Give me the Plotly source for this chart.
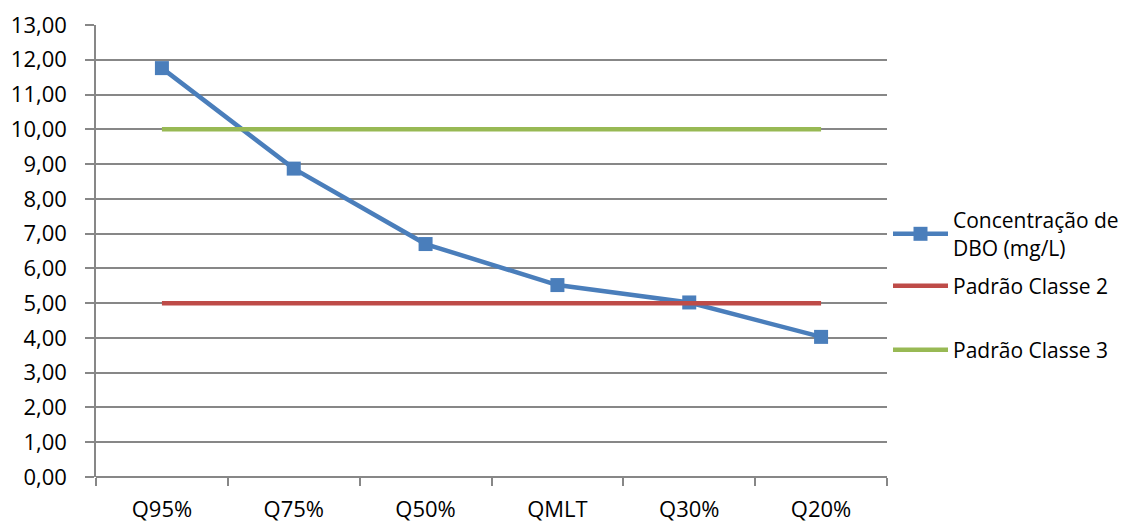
import plotly.graph_objects as go

# Flow scenarios and BOD concentration
categories = ["Q95%", "Q75%", "Q50%", "QMLT", "Q30%", "Q20%"]
dbo = [11.76, 8.87, 6.70, 5.52, 5.02, 4.03]
classe2 = [5.0, 5.0, 5.0, 5.0, 5.0, 5.0]
classe3 = [10.0, 10.0, 10.0, 10.0, 10.0, 10.0]
y_ticks = [float(v) for v in range(0, 14)]

FONT = "Open Sans"
GRID = "#878787"

fig = go.Figure()
fig.add_trace(go.Scatter(
    x=categories, y=dbo, mode="lines+markers",
    name="Concentração de<br>DBO (mg/L)",
    line=dict(color="#4A7EBB", width=4.5),
    marker=dict(symbol="square", size=14, color="#4A7EBB"),
    legend="legend",
))
fig.add_trace(go.Scatter(
    x=categories, y=classe2, mode="lines", name="Padrão Classe 2",
    line=dict(color="#BE4B48", width=4.5), legend="legend2",
))
fig.add_trace(go.Scatter(
    x=categories, y=classe3, mode="lines", name="Padrão Classe 3",
    line=dict(color="#98B954", width=4.5), legend="legend3",
))

legend_common = dict(
    xref="container", yref="container", xanchor="left", yanchor="middle",
    font=dict(family=FONT, size=21, color="#000000"),
    bgcolor="rgba(0,0,0,0)", itemwidth=55, tracegroupgap=0,
)

fig.update_layout(
    width=1121, height=523,
    margin=dict(l=96, r=234, t=25, b=46, autoexpand=False),
    paper_bgcolor="white", plot_bgcolor="white",
    font=dict(family=FONT, size=23, color="#000000"),
    showlegend=True,
    legend=dict(x=888 / 1121, y=1 - 234 / 523, **legend_common),
    legend2=dict(x=888 / 1121, y=1 - 286 / 523, **legend_common),
    legend3=dict(x=888 / 1121, y=1 - 350 / 523, **legend_common),
    xaxis=dict(
        type="category", range=[-0.5, 5.5], automargin=False,
        tickson="boundaries", ticks="outside", ticklen=8, tickwidth=1.5,
        tickcolor=GRID, showgrid=False, showline=False,
        ticklabelstandoff=17, zeroline=False,
        tickfont=dict(family=FONT, size=22),
    ),
    yaxis=dict(
        range=[0, 13], tickvals=y_ticks, automargin=False,
        ticktext=[f"{v:.2f}".replace(".", ",") for v in y_ticks],
        ticks="outside", ticklen=9, tickwidth=1.5, tickcolor=GRID,
        showgrid=True, gridcolor=GRID, gridwidth=1.5,
        showline=True, linecolor=GRID, linewidth=1.5,
        zeroline=True, zerolinecolor=GRID, zerolinewidth=2,
        ticklabelstandoff=14,
        tickfont=dict(family=FONT, size=22),
    ),
)

fig.write_html("out.html")
